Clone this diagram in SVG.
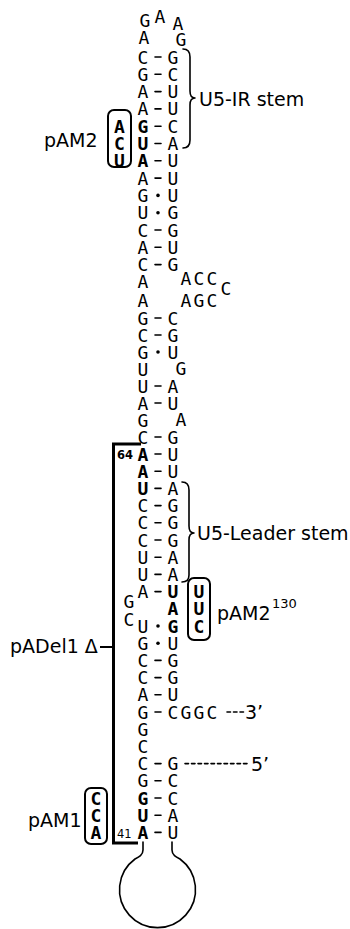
<svg xmlns="http://www.w3.org/2000/svg" width="350" height="929" viewBox="0 0 350 929">
<style>
.nt{font-family:"DejaVu Sans Mono","Liberation Mono",monospace;font-size:18px;fill:#000;text-anchor:middle}
.b{font-weight:bold}
.lab{font-family:"DejaVu Sans","Liberation Sans",sans-serif;font-size:19px;fill:#000}
.num{font-family:"DejaVu Sans","Liberation Sans",sans-serif;font-size:11.5px;fill:#000}
.ln{fill:none;stroke:#000;stroke-width:1.6;stroke-linecap:round;stroke-linejoin:round}
.box{fill:none;stroke:#000;stroke-width:2;}
</style>
<rect width="350" height="929" fill="#fff"/>

<g id="stem-left">
<text class="nt" x="143 143 143 143" y="63.5 80.8 98.1 115.4">CGAA</text>
<text class="nt b" x="143 143 143" y="132.7 150 167.3">GUA</text>
<text class="nt" x="143 143 143 143 143 143 143 143" y="184.6 201.9 219.2 236.5 253.8 271.1 287.5 306.5">AGUCACAA</text>
<text class="nt" x="143 143 143 143 143 143 143 143" y="324.5 341.5 358.5 375.5 392.5 409.5 426.5 443.5">GCGUUAGC</text>
<text class="nt b" x="143 143 143" y="460.5 477.7 494.9">AAU</text>
<text class="nt" x="143 143 143 143 143 143" y="512.1 529.3 546.5 563.7 580.9 598.1">CCCUUA</text>
<text class="nt" x="129 129" y="607.5 625.5">GC</text>
<text class="nt" x="143 143 143 143 143 143 143 143 143 143" y="632.5 649.7 666.9 684.1 701.3 718.5 735.7 752.9 770.1 787.3">UGCCAGGCCG</text>
<text class="nt b" x="143 143 143" y="804.5 821.7 838.9">GUA</text>
</g>

<g id="stem-right">
<text class="nt" x="173 173 173 173 173 173 173 173 173 173 173 173 173" y="63.5 80.8 98.1 115.4 132.7 150 167.3 184.6 201.9 219.2 236.5 253.8 271.1">GCUUCAUUUGGUG</text>
<text class="nt" x="173 173 173" y="324.5 341.5 358.5">CGU</text>
<text class="nt" x="181" y="375">G</text>
<text class="nt" x="173 173" y="392.5 409.5">AU</text>
<text class="nt" x="181" y="426">A</text>
<text class="nt" x="173 173 173 173 173 173 173 173 173" y="443.5 460.5 477.7 494.9 512.1 529.3 546.5 563.7 580.9">GUUAGGGAA</text>
<text class="nt b" x="173 173 173" y="598.1 615.3 632.5">UAG</text>
<text class="nt" x="173 173 173 173 173 186 199 212" y="649.7 666.9 684.1 701.3 718.5 718.5 718.5 718.5">UGGUCGGC</text>
<text class="nt" x="173 173 173 173 173" y="770.1 787.3 804.5 821.7 838.9">GCCAU</text>
</g>

<g id="top-loop">
<text class="nt" x="145 160 178 144 181" y="27 23 30 44 46">GAAAG</text>
</g>

<g id="internal-loop">
<text class="nt" x="186 199 212 226 186 199 212" y="285 285 285 295 307 307 307">ACCCAGC</text>
</g>

<g id="bottom-loop">
<path class="ln" d="M143,842 V850 C143,855 139,857 135,859 A38,38 0 1 0 180,859 C176,857 172,855 172,850 V842"/>
</g>

<g id="connectors">
<path class="ln" d="M155,57h6M155,74.3h6M155,91.6h6M155,108.9h6M155,126.2h6M155,143.5h6M155,160.8h6M155,178.1h6M155,230h6M155,247.3h6M155,264.6h6M155,318h6M155,335h6M155,386h6M155,403h6M155,437h6M155,454h6M155,471.2h6M155,488.4h6M155,505.6h6M155,522.8h6M155,540h6M155,557.2h6M155,574.4h6M155,591.6h6M155,660.4h6M155,677.6h6M155,694.8h6M155,712h6M155,763.6h6M155,780.8h6M155,798h6M155,815.2h6M155,832.4h6"/>
<g fill="#000">
<circle cx="158" cy="195.4" r="1.8"/><circle cx="158" cy="212.7" r="1.8"/><circle cx="158" cy="352" r="1.8"/><circle cx="158" cy="626" r="1.8"/><circle cx="158" cy="643.2" r="1.8"/>
</g>
<path class="ln" d="M227,712H244" stroke-dasharray="3.5 3"/>
<path class="ln" d="M185,763.6H250" stroke-dasharray="3.5 3"/>
</g>

<g id="ends">
<text class="lab" x="245" y="719">3’</text>
<text class="lab" x="251" y="771">5’</text>
</g>

<g id="u5-ir-stem">
<path class="ln" d="M183,49 Q190,49 190,57 V91 Q190,98 195,98 Q190,98 190,105 V140 Q190,148 183,148"/>
<text class="lab" x="199" y="106">U5-IR stem</text>
</g>

<g id="u5-leader-stem">
<path class="ln" d="M182,482 Q189,482 189,490 V526 Q189,533 194,533 Q189,533 189,540 V575 Q189,582 182,582"/>
<text class="lab" x="197" y="540">U5-Leader stem</text>
</g>

<g id="pAM2">
<rect class="box" x="108" y="110" width="23" height="57" rx="6"/>
<text class="nt b" x="119.5 119.5 119.5" y="132.7 150 167.3">ACU</text>
<text class="lab" x="44" y="147">pAM2</text>
</g>

<g id="pAM2-130">
<rect class="box" x="188" y="578" width="22" height="62" rx="6"/>
<text class="nt b" x="199 199 199" y="598.1 615.3 632.5">UUC</text>
<text class="lab" x="217" y="620">pAM2</text>
<text class="num" style="font-size:13px" x="272" y="608">130</text>
</g>

<g id="pAM1">
<rect class="box" x="85" y="788" width="22" height="56" rx="6"/>
<text class="nt b" x="96 96 96" y="804.5 821.7 838.9">CCA</text>
<text class="lab" x="28" y="827">pAM1</text>
</g>

<g id="pADel1">
<path d="M113.5,444 V843 M112,444 H141 M112,843 H138" fill="none" stroke="#000" stroke-width="3"/>
<path d="M100,647 H113" fill="none" stroke="#000" stroke-width="2"/>
<text class="num b" x="117" y="459">64</text>
<text class="num" x="117" y="838">41</text>
<text class="lab" x="10" y="653">pADel1 Δ</text>
</g>
</svg>
